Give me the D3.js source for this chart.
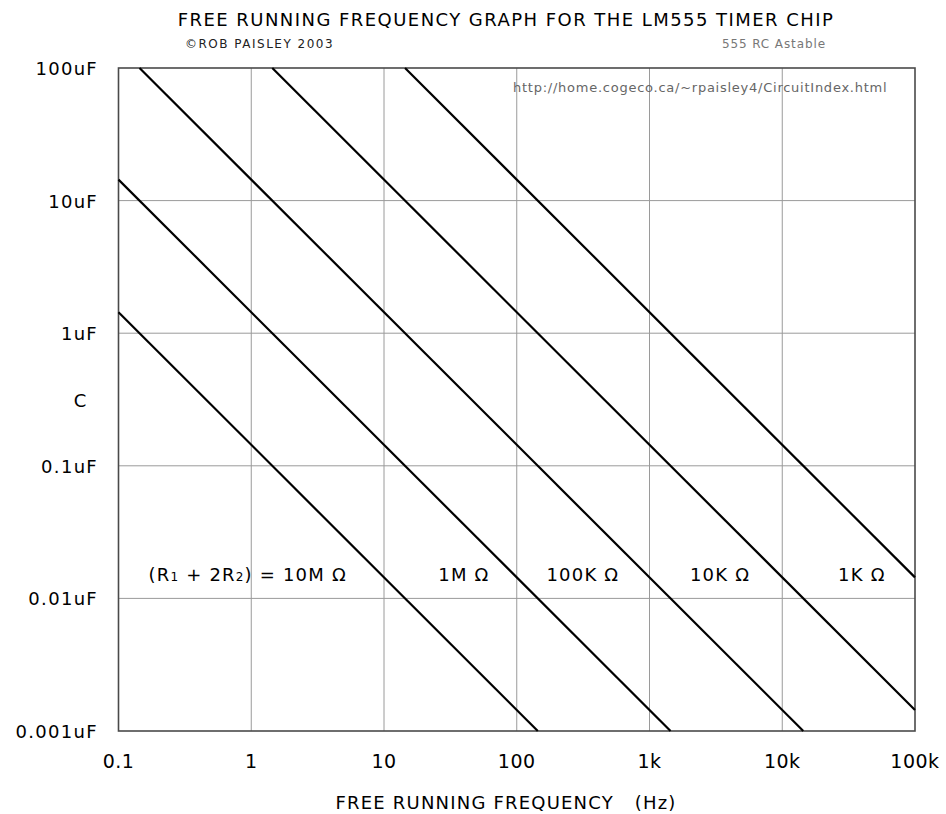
<!DOCTYPE html>
<html>
<head>
<meta charset="utf-8">
<script src="https://cdn.jsdelivr.net/npm/d3@7"></script>
<style>
  body { margin: 0; background: #fff; }
  svg { display: block; }
  text { font-family: "DejaVu Sans", sans-serif; fill: #000; }
</style>
</head>
<body>
<div id="chart"></div>
<script>
var width = 946,
    height = 814,
    margin = {top: 68, right: 31, bottom: 83, left: 118.5};

// frequency ticks (Hz) and capacitance ticks (uF)
var freqTicks = [0.1, 1, 10, 100, 1000, 10000, 100000],
    freqLabels = ["0.1", "1", "10", "100", "1k", "10k", "100k"],
    capTicks = [100, 10, 1, 0.1, 0.01, 0.001],
    capLabels = ["100uF", "10uF", "1uF", "0.1uF", "0.01uF", "0.001uF"];

// (R1 + 2R2) series, each as the two end points [Hz, uF]
var seriesNames = ["10M", "1M", "100K", "10K", "1K"],
    seriesStart = [[0.1, 1.44], [0.1, 14.4], [0.144, 100], [1.44, 100], [14.4, 100]],
    seriesEnd = [[144, 0.001], [1440, 0.001], [14400, 0.001], [100000, 0.00144], [100000, 0.0144]];

// label centres for each series [Hz, uF]
var labelText = ["(R1 + 2R2) = 10M Ω", "1M Ω", "100K Ω", "10K Ω", "1K Ω"],
    labelPos = [[0.94, 0.0154], [40, 0.0154], [315, 0.0154], [3400, 0.0154], [39800, 0.0154]];

var svg = d3.select("#chart").append("svg")
    .attr("width", width)
    .attr("height", height);

var x = d3.scaleLog()
    .domain([0.1, 100000])
    .range([margin.left, width - margin.right]);
var y = d3.scaleLog()
    .domain([0.001, 100])
    .range([height - margin.bottom, margin.top]);

// grid
svg.append("g").selectAll("line.vx")
    .data(freqTicks.slice(1, -1))
  .enter().append("line")
    .attr("x1", function(d) { return x(d); })
    .attr("x2", function(d) { return x(d); })
    .attr("y1", y(100)).attr("y2", y(0.001))
    .attr("stroke", "#9a9a9a").attr("stroke-width", 1);
svg.append("g").selectAll("line.hy")
    .data(capTicks.slice(1, -1))
  .enter().append("line")
    .attr("x1", x(0.1)).attr("x2", x(100000))
    .attr("y1", function(d) { return y(d); })
    .attr("y2", function(d) { return y(d); })
    .attr("stroke", "#9a9a9a").attr("stroke-width", 1);

// frame
svg.append("rect")
    .attr("x", x(0.1)).attr("y", y(100))
    .attr("width", x(100000) - x(0.1))
    .attr("height", y(0.001) - y(100))
    .attr("fill", "none")
    .attr("stroke", "#4a4a4a")
    .attr("stroke-width", 1.6);

// series lines
var series = seriesNames.map(function(n, i) {
    return {name: n, pts: [seriesStart[i], seriesEnd[i]]};
});
var line = d3.line()
    .x(function(d) { return x(d[0]); })
    .y(function(d) { return y(d[1]); });
svg.append("g").selectAll("path")
    .data(series)
  .enter().append("path")
    .attr("d", function(d) { return line(d.pts); })
    .attr("fill", "none")
    .attr("stroke", "#000")
    .attr("stroke-width", 2.2);

// axis tick labels
svg.append("g").selectAll("text")
    .data(freqTicks)
  .enter().append("text")
    .attr("x", function(d) { return x(d); })
    .attr("y", 768)
    .attr("text-anchor", "middle")
    .style("font-size", "19px")
    .style("letter-spacing", "0.5px")
    .text(function(d, i) { return freqLabels[i]; });

svg.append("g").selectAll("text")
    .data(capTicks)
  .enter().append("text")
    .attr("x", 98)
    .attr("y", function(d) { return y(d) + 7; })
    .attr("text-anchor", "end")
    .style("font-size", "18px")
    .style("letter-spacing", "1.3px")
    .text(function(d, i) { return capLabels[i]; });

svg.append("text")
    .attr("x", 80).attr("y", 407)
    .attr("text-anchor", "middle")
    .style("font-size", "18px")
    .text("C");

// series labels
var lbl = svg.append("g").selectAll("text")
    .data(labelText)
  .enter().append("text")
    .attr("x", function(d, i) { return x(labelPos[i][0]); })
    .attr("y", function(d, i) { return y(labelPos[i][1]) + 7; })
    .attr("text-anchor", "middle")
    .style("font-size", "18px")
    .style("letter-spacing", "1.2px");
lbl.each(function(d, i) {
    var t = d3.select(this);
    if (i === 0) {
        t.append("tspan").text("(R");
        t.append("tspan").style("font-size", "12px").text("1");
        t.append("tspan").text(" + 2R");
        t.append("tspan").style("font-size", "12px").text("2");
        t.append("tspan").text(") = 10M Ω");
    } else {
        t.text(d);
    }
});

// titles
svg.append("text")
    .attr("x", 506).attr("y", 26)
    .attr("text-anchor", "middle")
    .style("font-size", "18px")
    .style("letter-spacing", "1.45px")
    .text("FREE RUNNING FREQUENCY GRAPH FOR THE LM555 TIMER CHIP");

svg.append("text")
    .attr("x", 185).attr("y", 48)
    .style("font-size", "12px")
    .style("letter-spacing", "1.5px")
    .style("fill", "#222")
    .text("©ROB PAISLEY 2003");

svg.append("text")
    .attr("x", 826).attr("y", 48)
    .attr("text-anchor", "end")
    .style("font-size", "12px")
    .style("letter-spacing", "0.9px")
    .style("fill", "#777")
    .text("555 RC Astable");

svg.append("text")
    .attr("x", 513).attr("y", 92)
    .style("font-size", "13px")
    .style("letter-spacing", "0.75px")
    .style("fill", "#666")
    .text("http://home.cogeco.ca/~rpaisley4/CircuitIndex.html");

svg.append("text")
    .attr("x", 506).attr("y", 809)
    .attr("text-anchor", "middle")
    .style("font-size", "18px")
    .style("letter-spacing", "1.2px")
    .style("white-space", "pre")
    .attr("xml:space", "preserve")
    .text("FREE RUNNING FREQUENCY   (Hz)");
</script>
</body>
</html>
